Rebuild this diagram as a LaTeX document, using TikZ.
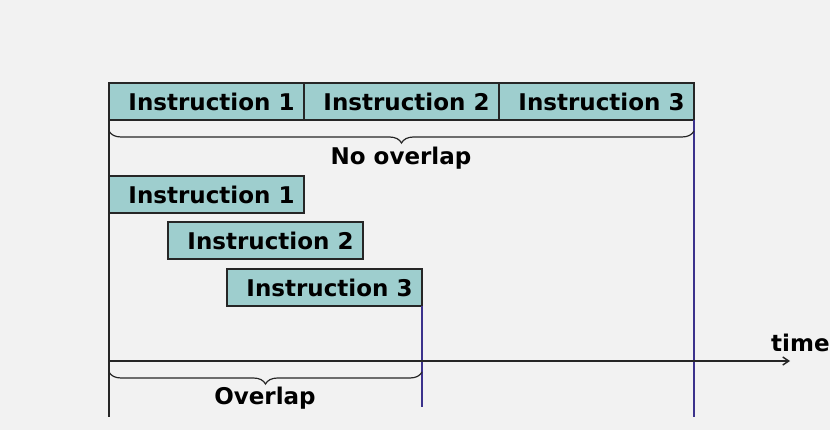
\documentclass[tikz,border=0pt]{standalone}
\usepackage{fontspec}
\setmainfont{DejaVu Sans}
\usetikzlibrary{decorations.pathreplacing,arrows.meta}
\definecolor{bg}{RGB}{242,242,242}
\definecolor{boxfill}{RGB}{158,206,206}
\definecolor{mark}{RGB}{60,50,140}
\tikzset{
  instr/.style={draw=black!85, line width=1.4pt, fill=boxfill, minimum width=195pt,
    minimum height=37pt, inner sep=0pt, outer sep=0pt, anchor=north west,
    font=\bfseries\fontsize{23}{23}\selectfont},
  label/.style={font=\bfseries\fontsize{23}{23}\selectfont, inner sep=0pt},
  guide/.style={draw=mark, line width=1.6pt},
  axis/.style={draw=black!85, line width=1.4pt},
  curly/.style={draw=black!85, line width=1.2pt,
    decorate, decoration={brace, mirror, amplitude=12pt}}
}
\begin{document}
\begin{tikzpicture}[x=1pt, y=-1pt]
  \fill[bg] (0,0) rectangle (830,430);
  \useasboundingbox (0,0) rectangle (830,430);

  % sequential execution
  \node[instr] (t1) at (109,83) {\hspace*{10pt}Instruction 1};
  \node[instr] (t2) at (304,83) {\hspace*{10pt}Instruction 2};
  \node[instr] (t3) at (499,83) {\hspace*{10pt}Instruction 3};

  % overlapped execution
  \node[instr] (b1) at (109,176) {\hspace*{10pt}Instruction 1};
  \node[instr] (b2) at (168,222) {\hspace*{10pt}Instruction 2};
  \node[instr] (b3) at (227,269) {\hspace*{10pt}Instruction 3};

  % time axis and guide lines
  \coordinate (origin) at (t1.north west |- 0,361);
  \coordinate (tend) at (790,361);
  \coordinate (leftfoot) at (t1.north west |- 0,417);
  \coordinate (seqfoot) at (t3.south east |- 0,417);
  \coordinate (ovlfoot) at (b3.south east |- 0,407);
  \draw[axis] (t1.north west) -- (leftfoot);
  \draw[guide] (t3.south east) -- (seqfoot);
  \draw[guide] (b3.south east) -- (ovlfoot);
  \draw[axis, -{Straight Barb[length=6pt,width=8pt]}] (origin) -- (tend);
  \node[label, anchor=south west] (time) at (771,352) {time};

  % braces
  \coordinate (nl) at (t1.south west |- 0,131);
  \coordinate (nr) at (t3.south east |- 0,131);
  \draw[curly] (nl) -- (nr);
  \node[label] (nolap) at (401,158) {No overlap};
  \coordinate (ol) at (b1.south west |- 0,372);
  \coordinate (or) at (b3.south east |- 0,372);
  \draw[curly] (ol) -- (or);
  \node[label] (olap) at (265,398) {Overlap};
\end{tikzpicture}
\end{document}
